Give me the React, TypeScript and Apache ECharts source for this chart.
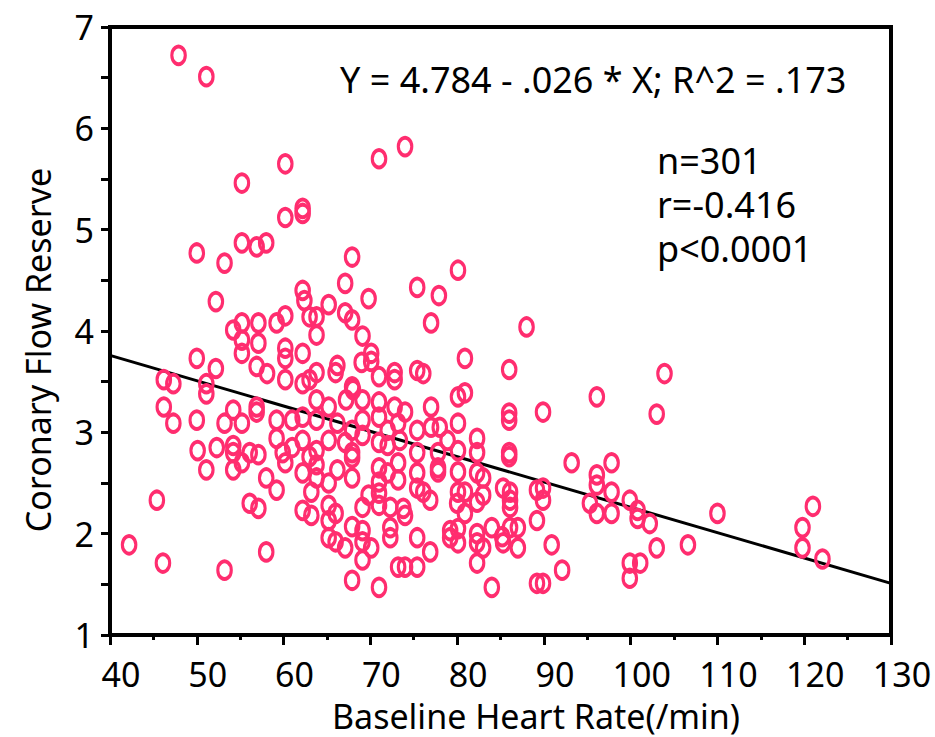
import React, { useEffect, useRef } from "react";
import * as echarts from "echarts";

const heartRate = [
  47.9, 51.1, 60.2, 71.0, 74.0, 55.2, 62.2, 62.2, 60.2, 50.0,
  55.2, 56.9, 58.0, 53.2, 67.9, 67.1, 52.2, 62.2, 62.4, 65.2,
  69.8, 67.1, 67.9, 63.0, 63.8, 60.2, 59.2, 54.2, 55.2, 57.1,
  55.2, 57.1, 55.2, 60.2, 60.2, 62.2, 63.8, 69.1, 70.1, 69.0,
  70.1, 50.0, 52.2, 56.9, 58.1, 60.2, 62.2, 63.0, 63.8, 66.2,
  66.0, 67.9, 71.0, 72.8, 72.8, 46.2, 47.3, 51.1, 51.1, 46.2,
  47.3, 50.0, 54.2, 56.9, 56.9, 53.2, 55.2, 59.2, 61.0, 62.2,
  63.8, 63.8, 65.2, 66.2, 67.2, 68.0, 69.1, 69.1, 71.0, 71.0,
  72.8, 72.0, 59.2, 67.9, 69.1, 50.1, 52.3, 51.1, 54.2, 54.2,
  54.2, 55.2, 56.1, 57.1, 59.9, 60.2, 61.0, 62.2, 62.2, 63.0,
  63.8, 63.8, 63.8, 63.2, 65.2, 66.2, 65.2, 67.1, 67.9, 67.9,
  67.9, 71.0, 71.0, 71.0, 72.0, 72.0, 73.2, 73.2, 69.8, 69.1,
  71.0, 71.0, 72.3, 72.3, 72.3, 73.2, 58.0, 59.2, 56.1, 57.1,
  62.2, 63.2, 65.2, 66.0, 65.2, 67.9, 69.1, 69.1, 65.2, 66.0,
  67.1, 70.1, 69.1, 67.9, 71.0, 45.4, 42.2, 46.1, 53.2, 58.0,
  80.1, 75.4, 77.9, 77.0, 88.0, 80.9, 86.0, 103.9, 75.4, 76.1,
  80.1, 80.9, 74.0, 77.0, 86.0, 86.0, 89.9, 96.1, 103.0, 80.1,
  77.0, 78.0, 75.4, 73.2, 82.3, 82.3, 86.0, 86.0, 73.4, 75.4,
  75.4, 77.8, 77.8, 77.8, 78.9, 80.1, 80.1, 82.3, 83.0, 75.4,
  76.1, 76.9, 80.1, 80.9, 80.0, 80.9, 82.3, 83.0, 85.3, 86.1,
  86.1, 86.1, 89.2, 89.9, 89.9, 89.2, 93.2, 96.1, 96.1, 97.8,
  97.8, 95.3, 96.1, 97.8, 99.9, 100.8, 100.8, 102.2, 106.6, 73.8,
  74.0, 75.4, 76.9, 79.2, 79.2, 80.1, 80.1, 82.3, 82.3, 83.0,
  84.0, 85.2, 85.3, 86.1, 87.0, 87.0, 82.3, 74.0, 75.4, 84.0,
  89.2, 89.9, 90.9, 92.1, 99.9, 101.1, 99.9, 103.0, 110.0, 121.0,
  119.8, 119.8, 122.1,
];

const cfr = [
  6.72, 6.51, 5.65, 5.70, 5.82, 5.46, 5.21, 5.16, 5.12, 4.77,
  4.87, 4.83, 4.87, 4.67, 4.73, 4.47, 4.29, 4.40, 4.30, 4.26,
  4.32, 4.18, 4.11, 4.14, 4.14, 4.15, 4.08, 4.01, 4.08, 4.08,
  3.91, 3.88, 3.78, 3.83, 3.73, 3.78, 3.96, 3.95, 3.78, 3.69,
  3.70, 3.73, 3.63, 3.65, 3.58, 3.52, 3.48, 3.52, 3.59, 3.66,
  3.59, 3.45, 3.55, 3.59, 3.52, 3.52, 3.48, 3.48, 3.38, 3.25,
  3.09, 3.12, 3.22, 3.25, 3.20, 3.09, 3.09, 3.12, 3.12, 3.15,
  3.32, 3.12, 3.25, 3.09, 3.32, 3.42, 3.32, 3.12, 3.30, 3.15,
  3.25, 3.02, 2.94, 3.02, 2.97, 2.82, 2.85, 2.63, 2.87, 2.80,
  2.63, 2.70, 2.80, 2.78, 2.80, 2.70, 2.85, 2.92, 2.60, 2.76,
  2.82, 2.68, 2.55, 2.41, 2.92, 2.63, 2.50, 2.90, 2.80, 2.75,
  2.55, 2.90, 2.65, 2.51, 2.87, 2.60, 2.70, 2.53, 2.38, 2.26,
  2.40, 2.28, 2.26, 2.06, 1.96, 1.67, 2.55, 2.43, 2.30, 2.25,
  2.23, 2.18, 2.28, 2.20, 2.13, 2.07, 2.03, 1.92, 1.96, 1.92,
  1.86, 1.86, 1.74, 1.54, 1.47, 2.33, 1.89, 1.71, 1.64, 1.82,
  4.60, 4.43, 4.35, 4.08, 4.04, 3.73, 3.62, 3.58, 3.61, 3.58,
  3.35, 3.39, 3.20, 3.25, 3.19, 3.12, 3.20, 3.35, 3.18, 3.09,
  3.05, 3.05, 3.02, 3.09, 2.94, 2.80, 2.80, 2.76, 2.92, 2.80,
  2.60, 2.80, 2.65, 2.61, 2.92, 2.82, 2.61, 2.60, 2.55, 2.45,
  2.41, 2.33, 2.41, 2.41, 2.30, 2.20, 2.31, 2.38, 2.45, 2.41,
  2.33, 2.26, 2.43, 2.45, 2.33, 2.13, 2.70, 2.58, 2.48, 2.70,
  2.41, 2.30, 2.20, 2.20, 2.33, 2.23, 2.15, 2.10, 1.89, 2.25,
  2.18, 1.96, 1.82, 2.03, 1.96, 2.05, 1.91, 2.00, 1.91, 1.86,
  2.06, 1.97, 1.91, 2.06, 2.06, 1.86, 1.71, 1.67, 1.67, 1.47,
  1.51, 1.51, 1.89, 1.64, 1.71, 1.71, 1.56, 1.86, 2.20, 2.27,
  2.06, 1.86, 1.75,
];

const fitX = [40, 130];
const fitY = [3.76, 1.51];

const xTitle = "Baseline Heart Rate(/min)";
const yTitle = "Coronary Flow Reserve";
const equationText = "Y = 4.784 - .026 * X; R^2 = .173";
const statsLines = ["n=301", "r=-0.416", "p<0.0001"];

const FONT = '"Noto Sans", "Noto Sans CJK KR", sans-serif';
const PINK = "#FF2D6F";

export default function App() {
  const ref = useRef<HTMLDivElement>(null);
  useEffect(() => {
    const chart = echarts.init(ref.current!, null, { renderer: "svg" });
    const points = heartRate.map((x, i) => [x, cfr[i]]);
    const fit = fitX.map((x, i) => [x, fitY[i]]);
    chart.setOption({
      animation: false,
      backgroundColor: "#fff",
      textStyle: { fontFamily: FONT },
      grid: {
        left: 110,
        right: 44,
        top: 27,
        bottom: 102,
        show: true,
        borderColor: "#000",
        borderWidth: 4,
        backgroundColor: "transparent",
      },
      xAxis: {
        type: "value",
        min: 40,
        max: 130,
        interval: 10,
        splitLine: { show: false },
        axisLine: { onZero: false, lineStyle: { color: "#000", width: 4 } },
        axisTick: { show: true, inside: false, length: 10, lineStyle: { color: "#000", width: 3 } },
        minorTick: { show: true, splitNumber: 2, length: 5, lineStyle: { color: "#000", width: 3 } },
        axisLabel: {
          color: "#000",
          fontSize: 34,
          lineHeight: 34,
          fontFamily: FONT,
          margin: 22,
          padding: [0, 0, 0, 22],
        },
      },
      yAxis: {
        type: "value",
        min: 1,
        max: 7,
        interval: 1,
        splitLine: { show: false },
        axisLine: { onZero: false, lineStyle: { color: "#000", width: 4 } },
        axisTick: { show: true, inside: false, length: 9, lineStyle: { color: "#000", width: 3 } },
        minorTick: { show: true, splitNumber: 2, length: 9, lineStyle: { color: "#000", width: 3 } },
        axisLabel: {
          color: "#000",
          fontSize: 34,
          lineHeight: 34,
          fontFamily: FONT,
          margin: 16,
          padding: [0, 0, 10, 0],
        },
      },
      graphic: [
        {
          type: "text",
          x: 536,
          y: 716,
          style: {
            text: xTitle,
            fontSize: 34,
            lineHeight: 34,
            fontFamily: FONT,
            fill: "#000",
            textAlign: "center",
            textVerticalAlign: "middle",
          },
        },
        {
          type: "text",
          x: 38,
          y: 350,
          rotation: Math.PI / 2,
          style: {
            text: yTitle,
            fontSize: 34,
            fontFamily: FONT,
            fill: "#000",
            textAlign: "center",
            textVerticalAlign: "middle",
          },
        },
        {
          type: "text",
          x: 340,
          y: 79,
          style: {
            text: equationText,
            fontSize: 36,
            fontFamily: FONT,
            fill: "#000",
            textAlign: "left",
            textVerticalAlign: "middle",
          },
        },
        {
          type: "text",
          x: 657,
          y: 138,
          style: {
            text: statsLines.join("\n"),
            fontSize: 36,
            lineHeight: 44,
            fontFamily: FONT,
            fill: "#000",
            textAlign: "left",
            textVerticalAlign: "top",
          },
        },
      ],
      series: [
        {
          type: "line",
          data: fit,
          symbol: "none",
          lineStyle: { color: "#000", width: 3 },
          z: 1,
        },
        {
          type: "scatter",
          data: points,
          symbol: "circle",
          symbolSize: [13.5, 17.5],
          itemStyle: {
            color: "rgba(0,0,0,0)",
            borderColor: PINK,
            borderWidth: 3.5,
            opacity: 1,
          },
          z: 2,
        },
      ],
    });
    return () => chart.dispose();
  }, []);
  return (
    <div
      ref={ref}
      style={{ position: "fixed", left: 0, top: 0, width: 935, height: 737 }}
    />
  );
}
